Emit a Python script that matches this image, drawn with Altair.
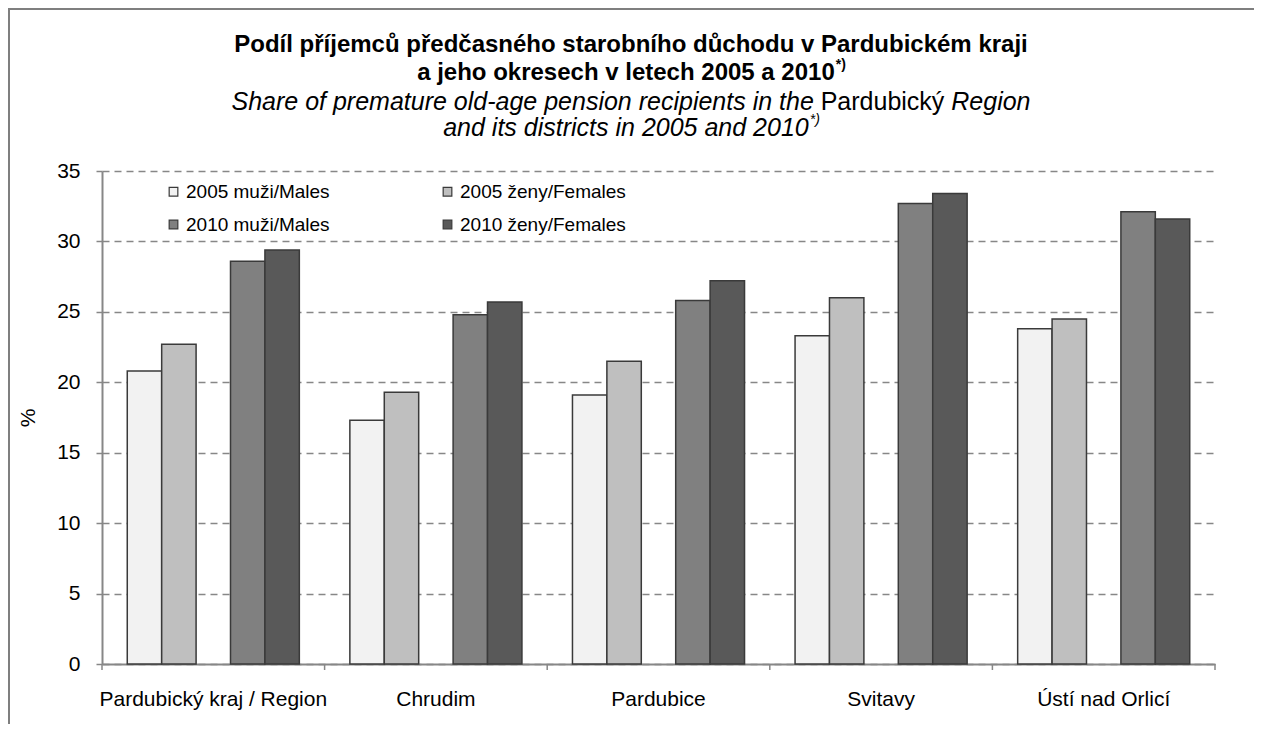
import altair as alt
import pandas as pd

# ---- data ----
categories = ["Pardubický kraj / Region", "Chrudim", "Pardubice", "Svitavy", "Ústí nad Orlicí"]
series = ["2005 muži/Males", "2005 ženy/Females", "2010 muži/Males", "2010 ženy/Females"]
m2005 = [20.8, 17.3, 19.1, 23.3, 23.8]
f2005 = [22.7, 19.3, 21.5, 26.0, 24.5]
m2010 = [28.6, 24.8, 25.8, 32.7, 32.1]
f2010 = [29.4, 25.7, 27.2, 33.4, 31.6]
colors = ["#f2f2f2", "#bfbfbf", "#808080", "#595959"]
y_ticks = [0, 5, 10, 15, 20, 25, 30, 35]

title_line1 = "Podíl příjemců předčasného starobního důchodu v Pardubickém kraji"
title_line2 = "a jeho okresech v letech 2005 a 2010"
sub_line1 = ["Share of premature old-age pension recipients in the ", "Pardubický", " Region"]
sub_line2 = "and its districts in 2005 and 2010"
footnote_mark = "*)"

rows = []
for s, vals in zip(series, [m2005, f2005, m2010, f2010]):
    for c, v in zip(categories, vals):
        rows.append({"region": c, "series": s, "value": v})
df = pd.DataFrame(rows)

offset_domain = [series[0], series[1], "(blank)", series[2], series[3]]
bounds = pd.DataFrame({"b": list(range(len(categories) + 1))})
one = pd.DataFrame({"a": [0]})

W, H = 1113, 493
PAD_L, PAD_T, PAD_R, PAD_B = 94, 163, 39, 60
FONT = "Liberation Sans"
GRAY = "#878787"

# Arial-compatible advance widths (per 1000 em) for text measurement
REG = {' ': 278, 'a': 556, 'b': 556, 'c': 500, 'd': 556, 'e': 556, 'f': 278, 'g': 556,
       'h': 556, 'i': 222, 'j': 222, 'k': 500, 'l': 222, 'm': 833, 'n': 556, 'o': 556,
       'p': 556, 'q': 556, 'r': 333, 's': 500, 't': 278, 'u': 556, 'v': 500, 'w': 722,
       'x': 500, 'y': 500, 'z': 500, 'ý': 500, '-': 333, 'S': 667, 'P': 667, 'R': 722,
       '*': 389, ')': 333}
BOLD = {' ': 278, 'a': 556, 'c': 556, 'e': 556, 'h': 611, 'j': 278, 'k': 556, 'l': 278,
        'o': 611, 'r': 389, 's': 556, 't': 333, 'v': 556, '*': 389, ')': 333}
for d in "0123456789":
    REG[d] = 556
    BOLD[d] = 556


def tw(txt, size, table):
    return sum(table.get(ch, 556) for ch in txt) * size / 1000.0


def text_layer(txt, x, y, size, weight="normal", style="normal", align="left"):
    return alt.Chart(one).mark_text(
        text=txt, align=align, baseline="middle", fontSize=size, fontWeight=weight,
        fontStyle=style, color="#000000", font=FONT).encode(x=alt.value(x), y=alt.value(y))


CX = 631 - 102  # centre of the whole frame, relative to plot origin
TS, SS, SUP = 24, 25, 14

titles = []
titles.append(text_layer(title_line1, CX, 45 - 171, TS, weight="bold", align="center"))
w_main = tw(title_line2, TS, BOLD)
w_sup = tw(footnote_mark, SUP, BOLD)
x0 = CX - (w_main + w_sup) / 2
titles.append(text_layer(title_line2, x0, 73 - 171, TS, weight="bold"))
titles.append(text_layer(footnote_mark, x0 + w_main + 1, 73 - 171 - 8, SUP, weight="bold"))

widths = [tw(s, SS, REG) for s in sub_line1]
x0 = CX - sum(widths) / 2
styles = ["italic", "normal", "italic"]
for seg, w, st in zip(sub_line1, widths, styles):
    lead = len(seg) - len(seg.lstrip(" "))
    titles.append(text_layer(seg.strip(" "), x0 + tw(" " * lead, SS, REG), 102 - 171, SS, style=st))
    x0 += w
w_main = tw(sub_line2, SS, REG)
w_sup = tw(footnote_mark, SUP, REG)
x0 = CX - (w_main + w_sup) / 2
titles.append(text_layer(sub_line2, x0, 128 - 171, SS, style="italic"))
titles.append(text_layer(footnote_mark, x0 + w_main + 1, 128 - 171 - 8, SUP, style="italic"))

bars = alt.Chart(df).mark_bar(stroke="#3a3a3a", strokeWidth=1.5).encode(
    x=alt.X("region:N", sort=categories,
            scale=alt.Scale(paddingInner=0.227, paddingOuter=0.1135),
            axis=alt.Axis(title=None, ticks=False, domain=True, domainColor=GRAY,
                          domainWidth=2, labelAngle=0, labelFontSize=21, labelLimit=400,
                          labelColor="#000000", labelPadding=24, grid=False)),
    xOffset=alt.XOffset("series:N",
                        scale=alt.Scale(domain=offset_domain, paddingInner=0, paddingOuter=0)),
    y=alt.Y("value:Q", scale=alt.Scale(domain=[0, 35], nice=False),
            axis=alt.Axis(values=y_ticks, title="%", titleFontSize=21, titleFontWeight="normal",
                          titleColor="#000000", titlePadding=18, labelFontSize=21,
                          labelColor="#000000", labelPadding=16, tickSize=6, tickColor=GRAY,
                          tickWidth=1.5, domainColor=GRAY, domainWidth=2, grid=True,
                          gridDash=[7, 5], gridColor=GRAY, gridWidth=1.5)),
    color=alt.Color("series:N", scale=alt.Scale(domain=series, range=colors),
                    legend=alt.Legend(title=None, orient="none", legendX=62, legendY=11,
                                      direction="horizontal", columns=2, columnPadding=108,
                                      rowPadding=13, symbolType="square", symbolSize=75,
                                      symbolStrokeColor="#3a3a3a", symbolStrokeWidth=1.2,
                                      labelFontSize=19, labelColor="#000000", labelLimit=400,
                                      labelOffset=3, padding=0)),
)

ticks = alt.Chart(bounds).mark_rule(color=GRAY, strokeWidth=1.5).encode(
    x=alt.X("b:Q", scale=alt.Scale(domain=[0, len(categories)], nice=False, zero=False), axis=None),
    y=alt.value(H),
    y2=alt.value(H + 6),
)

frame = alt.Chart(one).mark_rect(
    fill=None, stroke="#7f7f7f", strokeWidth=2).encode(
    x=alt.value(-PAD_L + 1), x2=alt.value(W + PAD_R + 20),
    y=alt.value(-PAD_T + 1), y2=alt.value(H + 300),
)

chart = alt.layer(frame, bars, ticks, *titles).resolve_scale(x="independent").properties(
    width=W, height=H,
    autosize=alt.AutoSizeParams(type="none"),
    padding={"left": PAD_L, "top": PAD_T, "right": PAD_R, "bottom": PAD_B},
).configure(font=FONT).configure_view(stroke=None)

chart.save("out.html", embed_options={"renderer": "svg", "actions": False})
